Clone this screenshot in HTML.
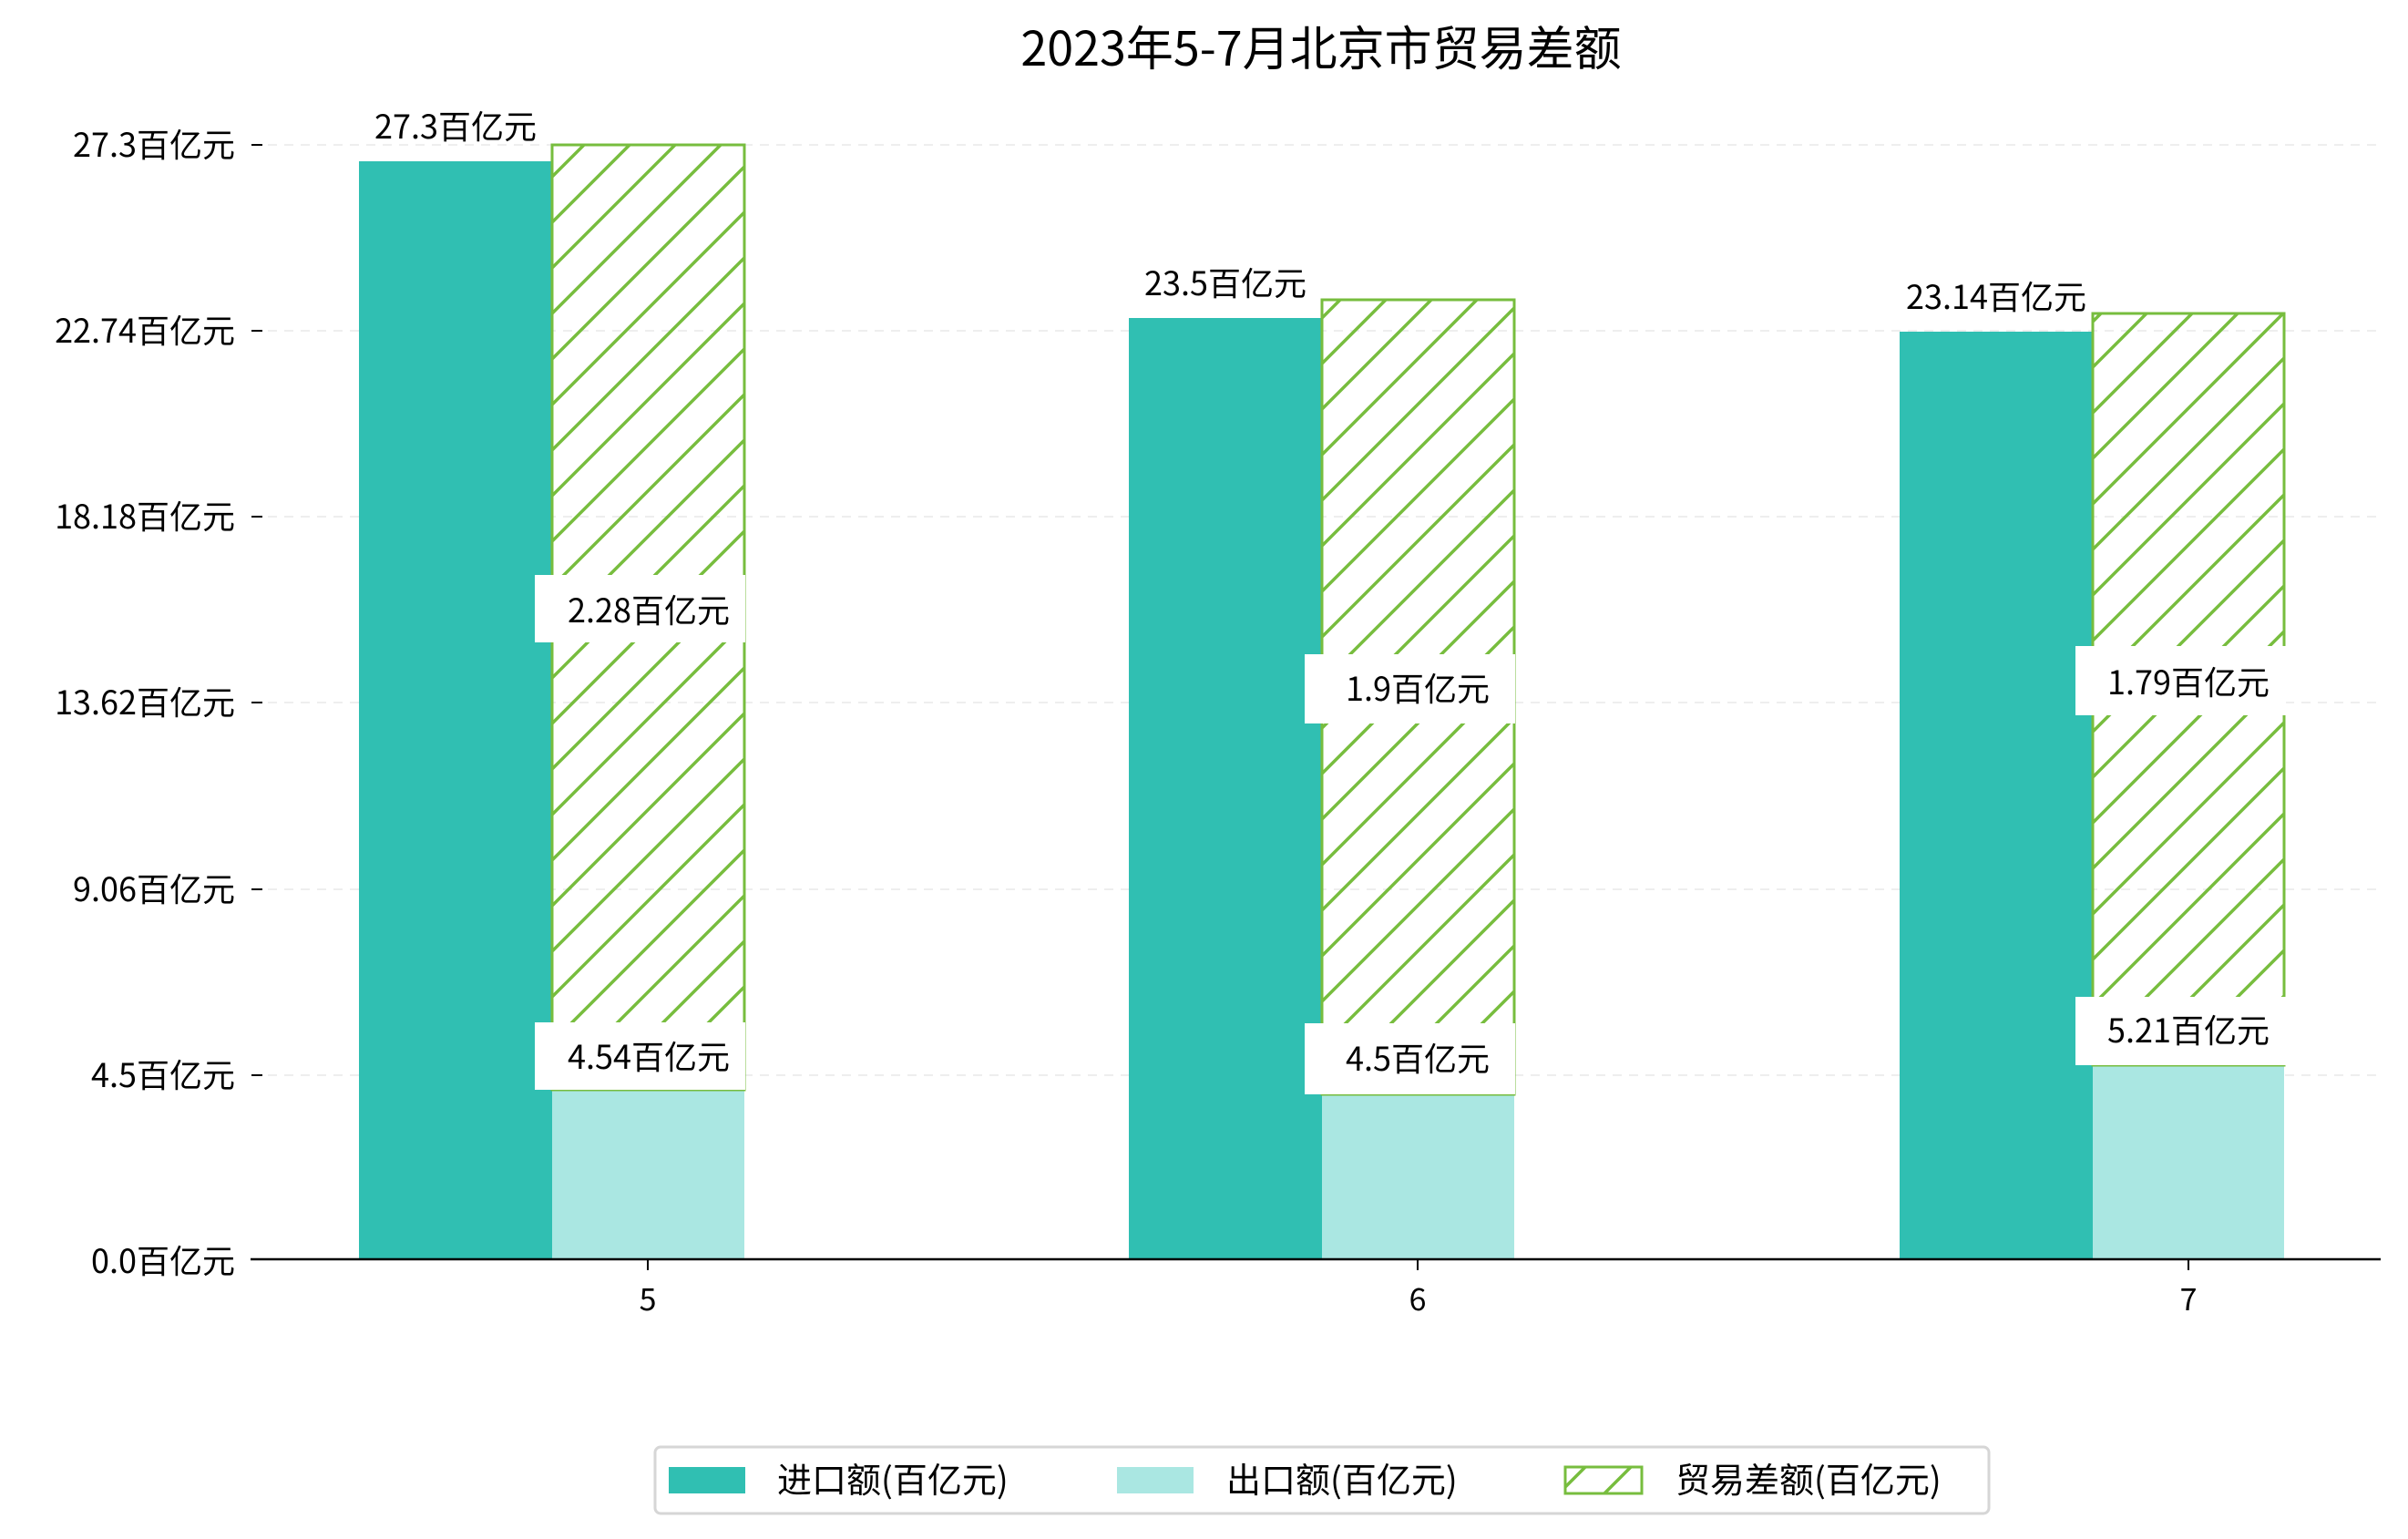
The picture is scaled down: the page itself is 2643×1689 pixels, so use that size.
<!DOCTYPE html>
<html><head><meta charset="utf-8"><style>body{margin:0;background:#fff}svg{display:block}text{font-family:"WenQuanYi Zen Hei","Noto Sans CJK SC",sans-serif;fill:#000}</style></head><body>
<svg width="2643" height="1689" viewBox="0 0 2643 1689" xmlns="http://www.w3.org/2000/svg">
<defs><pattern id="h" patternUnits="userSpaceOnUse" width="50" height="50"><path d="M-5,55 L55,-5 M-30,30 L30,-30 M20,80 L80,20" stroke="#77bd3e" stroke-width="3.5"/></pattern></defs>
<text x="1450" y="72" font-size="52" text-anchor="middle">2023年5-7月北京市贸易差额</text>
<g stroke="#eee" stroke-width="2" stroke-dasharray="10,8">
<line x1="276" y1="159" x2="2613" y2="159"/><line x1="276" y1="363" x2="2613" y2="363"/><line x1="276" y1="567" x2="2613" y2="567"/><line x1="276" y1="771" x2="2613" y2="771"/><line x1="276" y1="976" x2="2613" y2="976"/><line x1="276" y1="1180" x2="2613" y2="1180"/></g>
<g stroke="#000" stroke-width="2"><line x1="276" y1="159" x2="288" y2="159"/><line x1="276" y1="363" x2="288" y2="363"/><line x1="276" y1="567" x2="288" y2="567"/><line x1="276" y1="771" x2="288" y2="771"/><line x1="276" y1="976" x2="288" y2="976"/><line x1="276" y1="1180" x2="288" y2="1180"/></g>
<g font-size="36" text-anchor="end"><text x="258" y="172">27.3百亿元</text><text x="258" y="376">22.74百亿元</text><text x="258" y="580">18.18百亿元</text><text x="258" y="784">13.62百亿元</text><text x="258" y="989">9.06百亿元</text><text x="258" y="1193">4.5百亿元</text><text x="258" y="1397">0.0百亿元</text></g>
<rect x="394" y="177" width="212" height="1205" fill="#30bfb2"/>
<rect x="606" y="1196" width="211" height="186" fill="#aae7e2"/>
<rect x="606" y="159" width="211" height="1037" fill="url(#h)" stroke="#77bd3e" stroke-width="3"/>
<rect x="1239" y="349" width="212" height="1033" fill="#30bfb2"/>
<rect x="1451" y="1201" width="211" height="181" fill="#aae7e2"/>
<rect x="1451" y="329" width="211" height="872" fill="url(#h)" stroke="#77bd3e" stroke-width="3"/>
<rect x="2085" y="364" width="212" height="1018" fill="#30bfb2"/>
<rect x="2297" y="1169" width="210" height="213" fill="#aae7e2"/>
<rect x="2297" y="344" width="210" height="825" fill="url(#h)" stroke="#77bd3e" stroke-width="3"/>
<g fill="#fff"><rect x="587" y="631" width="231" height="74"/><rect x="587" y="1122" width="231" height="74"/>
<rect x="1432" y="718" width="231" height="76"/><rect x="1432" y="1123" width="231" height="78"/>
<rect x="2278" y="709" width="231" height="76"/><rect x="2278" y="1094" width="231" height="75"/></g>
<g font-size="36" text-anchor="middle">
<text x="500" y="152">27.3百亿元</text><text x="1345" y="324">23.5百亿元</text><text x="2191" y="339">23.14百亿元</text>
<text x="712" y="683">2.28百亿元</text><text x="712" y="1173">4.54百亿元</text>
<text x="1556" y="769">1.9百亿元</text><text x="1556" y="1175">4.5百亿元</text>
<text x="2402" y="762">1.79百亿元</text><text x="2402" y="1144">5.21百亿元</text></g>
<line x1="275" y1="1382" x2="2613" y2="1382" stroke="#000" stroke-width="2.5"/>
<g stroke="#000" stroke-width="2"><line x1="711" y1="1382" x2="711" y2="1394"/><line x1="1556" y1="1382" x2="1556" y2="1394"/><line x1="2402" y1="1382" x2="2402" y2="1394"/></g>
<g font-size="34" text-anchor="middle"><text x="711" y="1438">5</text><text x="1556" y="1438">6</text><text x="2402" y="1438">7</text></g>
<rect x="719" y="1588" width="1464" height="73" rx="6" fill="#fff" stroke="#d6d6d6" stroke-width="3"/>
<rect x="734" y="1610" width="84" height="29" fill="#30bfb2"/>
<rect x="1226" y="1610" width="84" height="29" fill="#aae7e2"/>
<rect x="1718" y="1610" width="84" height="29" fill="url(#h)" stroke="#77bd3e" stroke-width="3"/>
<g font-size="38"><text x="853" y="1638">进口额(百亿元)</text><text x="1346" y="1638">出口额(百亿元)</text><text x="1839" y="1638">贸易差额(百亿元)</text></g>
</svg>
</body></html>
